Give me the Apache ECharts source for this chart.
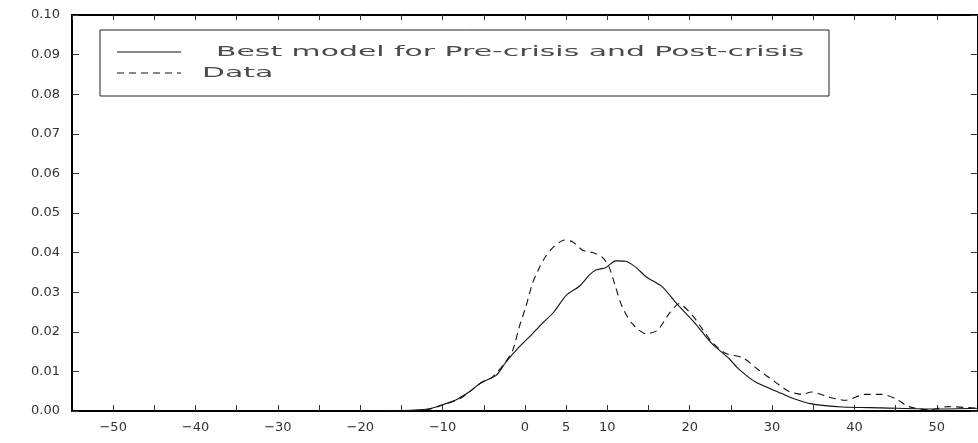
<!DOCTYPE html>
<html>
<head>
<meta charset="utf-8">
<script src="https://cdn.jsdelivr.net/npm/echarts@6/dist/echarts.min.js"></script>
<style>
html,body{margin:0;padding:0;background:#fff;}
#chart{width:978px;height:443px;}
</style>
</head>
<body>
<div id="chart"></div>
<script>
// ---- data ----
var modelName = 'Best model for Pre-crisis and Post-crisis';
var dataName = 'Data';
var modelX = [-19, -15, -11.8, -10, -8.4, -6.8, -5.2, -3.5, -2.3, -0.7, 0.9, 2.1, 3.5, 5.0, 6.6, 7.8, 8.6, 9.8, 11.0, 12.2, 13.4, 14.7, 16.7, 18.5, 20.5, 22.7, 24.8, 25.9, 28.0, 31.2, 32.4, 34.8, 38.5, 43.3, 49.8, 55];
var modelY = [0, 0.0001, 0.0005, 0.0016, 0.0028, 0.0048, 0.0073, 0.0090, 0.0124, 0.0162, 0.0195, 0.0221, 0.0250, 0.0292, 0.0315, 0.0343, 0.0356, 0.0362, 0.0379, 0.0378, 0.0364, 0.0339, 0.0313, 0.0269, 0.0225, 0.0170, 0.0132, 0.0107, 0.0073, 0.0044, 0.0033, 0.0018, 0.0010, 0.0008, 0.0005, 0.0007];
var dataX = [-15, -12, -10, -8, -6.5, -5.5, -4, -2.5, -1.5, -0.7, 0.1, 0.9, 1.7, 2.5, 3.5, 4.8, 5.8, 7.0, 8.2, 9.4, 10.2, 11.0, 11.8, 13.0, 14.7, 16.1, 17.5, 18.7, 20.3, 21.5, 22.7, 24.4, 26.4, 28.4, 30.4, 32.0, 33.6, 34.8, 36.9, 38.9, 41.3, 43.3, 45.0, 46.6, 49.0, 51.4, 54.2, 55];
var dataY = [0, 0.0003, 0.0015, 0.0030, 0.0052, 0.0069, 0.0085, 0.0120, 0.0153, 0.0212, 0.0263, 0.0322, 0.0360, 0.0390, 0.0415, 0.0432, 0.0427, 0.0406, 0.0400, 0.0388, 0.0364, 0.0313, 0.0263, 0.0221, 0.0195, 0.0204, 0.0246, 0.0271, 0.0242, 0.0208, 0.0174, 0.0145, 0.0135, 0.0103, 0.0073, 0.0050, 0.0042, 0.0048, 0.0035, 0.0027, 0.0042, 0.0042, 0.0031, 0.0011, 0.0003, 0.0011, 0.0008, 0.0007];
var xLabelValues = [-50, -40, -30, -20, -10, 0, 5, 10, 20, 30, 40, 50];

// ---- build ----
function zip(xs, ys) { return xs.map(function (x, i) { return [x, ys[i]]; }); }
var FONT = '"DejaVu Sans", sans-serif';
var legendFont = '14px "DejaVu Sans"';
var ctx = document.createElement('canvas').getContext('2d');
ctx.font = legendFont;
var legendScale = 588 / ctx.measureText(modelName).width;

var chart = echarts.init(document.getElementById('chart'), null, {renderer: 'canvas'});
var tickStyle = {color: '#333', width: 1};
chart.setOption({
  animation: false,
  backgroundColor: '#fff',
  grid: {left: 72, top: 15, right: -1.5, bottom: 32, containLabel: false},
  xAxis: [{
    type: 'value', position: 'bottom', min: -55, max: 55, interval: 5,
    axisLine: {show: true, onZero: false, lineStyle: {color: '#000', width: 2}},
    axisTick: {show: true, inside: true, length: 6, lineStyle: tickStyle},
    splitLine: {show: false},
    axisLabel: {
      show: true, margin: 10, color: '#333', fontFamily: FONT, fontSize: 13,
      showMinLabel: false, showMaxLabel: false,
      formatter: function (v) {
        v = Math.round(v);
        if (xLabelValues.indexOf(v) < 0) return '';
        return v < 0 ? '\u2212' + Math.abs(v) : String(v);
      }
    }
  }, {
    type: 'value', position: 'top', min: -55, max: 55, interval: 5,
    axisLine: {show: true, onZero: false, lineStyle: {color: '#000', width: 2}},
    axisTick: {show: true, inside: true, length: 5, lineStyle: tickStyle},
    splitLine: {show: false},
    axisLabel: {show: false}
  }],
  yAxis: [{
    type: 'value', position: 'left', min: 0, max: 0.1, interval: 0.01,
    axisLine: {show: true, onZero: false, lineStyle: {color: '#000', width: 2}},
    axisTick: {show: true, inside: true, length: 7, lineStyle: tickStyle},
    splitLine: {show: false},
    axisLabel: {
      show: true, margin: 12, color: '#333', fontFamily: FONT, fontSize: 13,
      formatter: function (v) { return v.toFixed(2); }
    }
  }, {
    type: 'value', position: 'right', min: 0, max: 0.1, interval: 0.01,
    axisLine: {show: true, onZero: false, lineStyle: {color: '#000', width: 2}},
    axisTick: {show: true, inside: true, length: 7, lineStyle: tickStyle},
    splitLine: {show: false},
    axisLabel: {show: false}
  }],
  series: [{
    name: modelName, type: 'line', xAxisIndex: 0, yAxisIndex: 0,
    data: zip(modelX, modelY), showSymbol: false, smooth: 0.25,
    lineStyle: {color: '#111', width: 1.1, type: 'solid'}
  }, {
    name: dataName, type: 'line', xAxisIndex: 0, yAxisIndex: 0,
    data: zip(dataX, dataY), showSymbol: false, smooth: 0.25,
    lineStyle: {color: '#111', width: 1.1, type: [7, 5]}
  }],
  graphic: [
    {type: 'rect', shape: {x: 100, y: 30, width: 729, height: 66},
     style: {fill: '#fff', stroke: '#222', lineWidth: 1}, z: 10},
    {type: 'line', shape: {x1: 117, y1: 52, x2: 181, y2: 52},
     style: {stroke: '#111', lineWidth: 1}, z: 11},
    {type: 'line', shape: {x1: 117, y1: 73, x2: 181, y2: 73},
     style: {stroke: '#111', lineWidth: 1, lineDash: [7, 5]}, z: 11},
    {type: 'text', x: 216, y: 52, scaleX: legendScale, z: 11,
     style: {text: modelName, font: legendFont, fill: '#4a4a4a', verticalAlign: 'middle', align: 'left'}},
    {type: 'text', x: 202, y: 73, scaleX: legendScale, z: 11,
     style: {text: dataName, font: legendFont, fill: '#4a4a4a', verticalAlign: 'middle', align: 'left'}}
  ]
});
</script>
</body>
</html>
